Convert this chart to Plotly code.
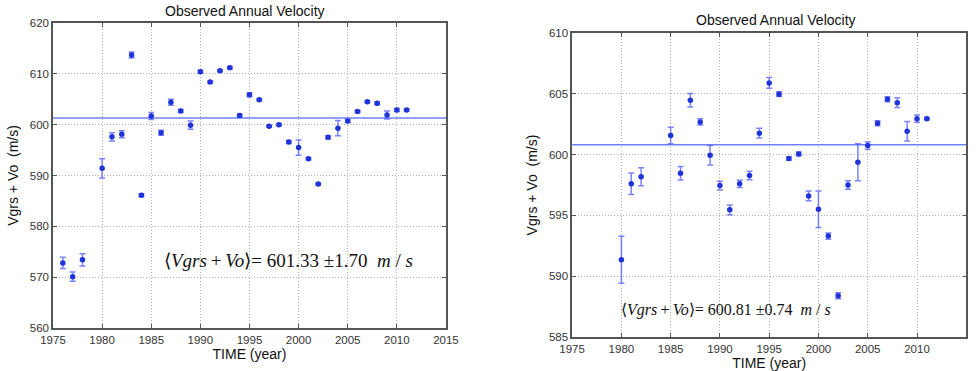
import plotly.graph_objects as go

# ---- Left panel data ----
years_l = [1976, 1977, 1978, 1980, 1981, 1982, 1983, 1984, 1985, 1986, 1987, 1988, 1989,
           1990, 1991, 1992, 1993, 1994, 1995, 1996, 1997, 1998, 1999, 2000, 2001, 2002,
           2003, 2004, 2005, 2006, 2007, 2008, 2009, 2010, 2011]
vel_l = [572.8, 570.1, 573.4, 591.4, 597.6, 598.1, 613.7, 586.1, 601.7, 598.4, 604.4, 602.7, 599.9,
         610.4, 608.4, 610.6, 611.2, 601.8, 605.9, 604.9, 599.7, 600.0, 596.6, 595.5, 593.3, 588.3,
         597.5, 599.3, 600.7, 602.6, 604.5, 604.2, 601.9, 602.9, 602.9]
err_l = [1.1, 0.9, 1.2, 1.9, 0.8, 0.7, 0.6, 0.3, 0.7, 0.5, 0.6, 0.3, 0.8,
         0.3, 0.2, 0.2, 0.2, 0.3, 0.4, 0.2, 0.2, 0.2, 0.3, 1.5, 0.2, 0.2,
         0.3, 1.5, 0.3, 0.2, 0.2, 0.3, 0.8, 0.3, 0.2]
mean_l = 601.33
sd_l = 1.70

# ---- Right panel data ----
years_r = [1980, 1981, 1982, 1985, 1986, 1987, 1988, 1989, 1990, 1991, 1992, 1993, 1994,
           1995, 1996, 1997, 1998, 1999, 2000, 2001, 2002, 2003, 2004, 2005, 2006, 2007,
           2008, 2009, 2010, 2011]
vel_r = [591.35, 597.6, 598.17, 601.57, 598.47, 604.47, 602.69, 599.95, 597.46, 595.46, 597.6, 598.28, 601.76,
         605.9, 604.97, 599.68, 600.06, 596.6, 595.5, 593.3, 588.4, 597.5, 599.38, 600.74, 602.58, 604.55,
         604.27, 601.92, 602.96, 602.96]
err_r = [1.93, 0.88, 0.74, 0.68, 0.55, 0.55, 0.25, 0.8, 0.36, 0.4, 0.3, 0.35, 0.4,
         0.45, 0.2, 0.15, 0.15, 0.4, 1.5, 0.25, 0.25, 0.35, 1.52, 0.3, 0.2, 0.2,
         0.4, 0.8, 0.3, 0.1]
mean_r = 600.81
sd_r = 0.74

x_ticks = [1975, 1980, 1985, 1990, 1995, 2000, 2005, 2010, 2015]
y_ticks_l = [560, 570, 580, 590, 600, 610, 620]
y_ticks_r = [585, 590, 595, 600, 605, 610]

MARK = "#1f33d9"
ERR = "rgba(80,90,255,0.75)"
LINE = "#6e80ff"
SANS = "Liberation Sans"
SERIF = "Liberation Serif"

fig = go.Figure()

def add_panel(xs, ys, es, mean, xa, ya):
    fig.add_trace(go.Scatter(
        x=[x_ticks[0], x_ticks[-1]], y=[mean, mean], mode="lines",
        line=dict(color=LINE, width=1.5), xaxis=xa, yaxis=ya, showlegend=False,
        hoverinfo="skip"))
    fig.add_trace(go.Scatter(
        x=xs, y=ys, mode="markers",
        marker=dict(color=MARK, size=5.5),
        error_y=dict(type="data", array=es, visible=True, color=ERR, thickness=1.5, width=3),
        xaxis=xa, yaxis=ya, showlegend=False))

add_panel(years_l, vel_l, err_l, mean_l, "x", "y")
add_panel(years_r, vel_r, err_r, mean_r, "x2", "y2")

axis_common = dict(
    showline=True, linecolor="#555555", linewidth=1.5, mirror="ticks",
    ticks="inside", ticklen=4, tickcolor="#555555",
    showgrid=True, gridcolor="#b0b0b0", griddash="1px,2px", gridwidth=1,
    zeroline=False, automargin=False,
    tickfont=dict(family=SANS, size=11.5, color="#333333"),
)

xlabel = dict(text="TIME (year)", font=dict(family=SANS, size=14, color="#111111"), standoff=3)
ylabel = dict(text="Vgrs + Vo  (m/s)", font=dict(family=SANS, size=14, color="#111111"), standoff=8)

def mean_text(m, s):
    th = "\u2009"
    return (f"⟨<i>Vgrs</i>{th}+{th}<i>Vo</i>⟩= {m:.2f} ±{s:.2f}  "
            f"<i>m</i> / <i>s</i>")

fig.update_layout(
    width=978, height=371,
    margin=dict(l=0, r=0, t=0, b=0, autoexpand=False),
    paper_bgcolor="white", plot_bgcolor="white",
    xaxis=dict(domain=[0.0542, 0.456], anchor="y", range=[1975, 2015], tickvals=x_ticks,
               title=xlabel, **axis_common),
    yaxis=dict(domain=[0.116, 0.938], anchor="x", range=[560, 620], tickvals=y_ticks_l,
               title=ylabel, **axis_common),
    xaxis2=dict(domain=[0.585, 0.988], anchor="y2", range=[1975, 2015], tickvals=x_ticks,
                title=xlabel, **axis_common),
    yaxis2=dict(domain=[0.0916, 0.911], anchor="x2", range=[585, 610], tickvals=y_ticks_r,
                title=ylabel, **axis_common),
    annotations=[
        dict(text="Observed Annual Velocity", x=0.2505, y=0.970, xref="paper", yref="paper",
             xanchor="center", yanchor="middle",
             showarrow=False, font=dict(family=SANS, size=14, color="#111111")),
        dict(text="Observed Annual Velocity", x=0.7935, y=0.946, xref="paper", yref="paper",
             xanchor="center", yanchor="middle",
             showarrow=False, font=dict(family=SANS, size=14, color="#111111")),
        dict(text=mean_text(mean_l, sd_l),
             x=1999.0, y=573.3, xref="x", yref="y", showarrow=False,
             xanchor="center", yanchor="middle",
             font=dict(family=SERIF, size=19, color="#111111")),
        dict(text=mean_text(mean_r, sd_r),
             x=1990.6, y=587.2, xref="x2", yref="y2", showarrow=False,
             xanchor="center", yanchor="middle",
             font=dict(family=SERIF, size=16, color="#111111")),
    ],
)

fig.write_html("out.html")
